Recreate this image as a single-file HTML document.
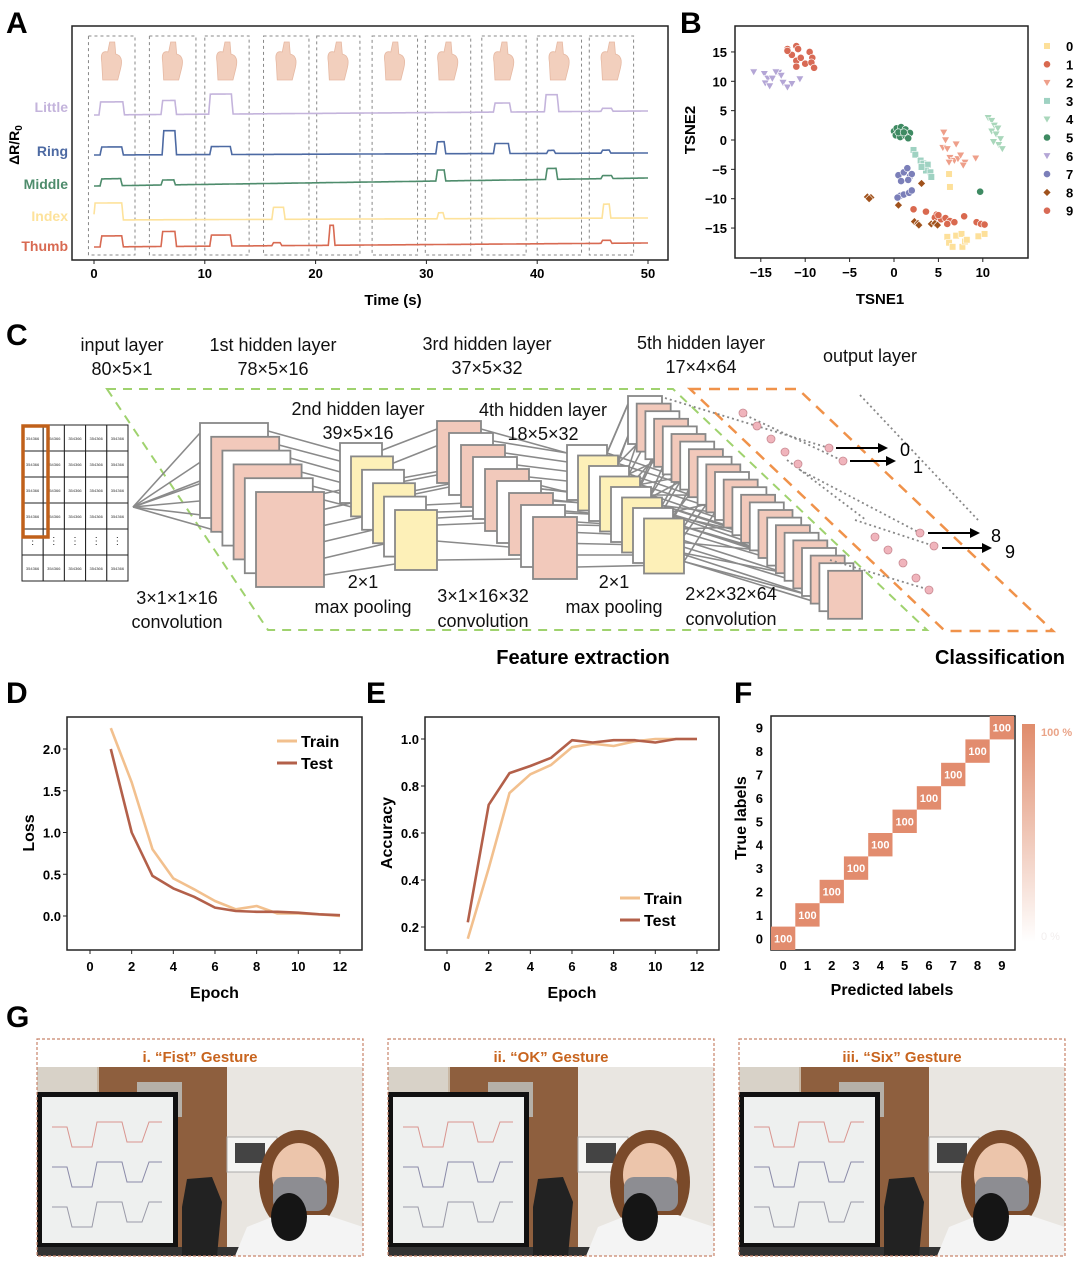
<!DOCTYPE html>
<html><head><meta charset="utf-8"><style>
html,body{margin:0;padding:0;background:#fff;}
svg{display:block;font-family:"Liberation Sans",Arial,sans-serif;}
</style></head><body>
<svg id="fig" xmlns="http://www.w3.org/2000/svg" width="1080" height="1264" viewBox="0 0 1080 1264">
<g id="pA"></g>
<g id="pB"></g>
<g id="pC"></g>
<g id="pD"></g>
<g id="pE"></g>
<g id="pF"></g>
<g id="pG"></g>
</svg>
<script>
// ---------- Panel A data ----------
const fingerNames = ["Little","Ring","Middle","Index","Thumb"];
const littlePulses = [[0.6,2.6,13],[6.2,7.3,14],[10.5,12.4,20],[36.2,37.5,9],[40.8,41.8,17],[45.9,46.7,3]];
const ringPulses = [[0.7,2.5,8],[6.3,7.3,24],[10.6,12.3,8],[31.0,31.6,12],[36.2,37.4,10],[41.0,41.5,3],[45.9,46.5,3]];
const middlePulses = [[0.7,2.4,7],[6.2,7.2,5],[31.0,31.6,11],[40.9,41.7,11],[45.9,46.7,3]];
const indexPulses = [[0.1,2.5,17],[16.2,17.1,12],[31.1,31.5,6],[46.0,46.5,14]];
const thumbPulses = [[0.7,2.5,11],[6.2,7.3,15],[10.6,12.3,11],[16.2,16.8,3],[21.3,21.6,20],[45.9,46.6,3]];
const littleDrift = [0,4];
const ringDrift = [0,2];
const middleDrift = [0,8];
const indexDrift = [0,2];
const thumbDrift = [0,4];
const timeTicks = [0,10,20,30,40,50];
const gestureWindows = [[-0.5,3.7],[5,9.2],[10,14],[15.3,19.4],[20.1,24],[25.1,29.2],[29.9,34],[35,39],[40,44],[44.7,48.7]];
// ---------- Panel B data ----------
const tsneClasses = ["0","1","2","3","4","5","6","7","8","9"];
const tsne0 = [[6.2,-5.8],[6.3,-8],[6,-16.5],[7,-16.3],[7.6,-16],[6.2,-17.5],[6.6,-18.2],[7.7,-18.2],[8,-17.3],[9.5,-16.4],[10.2,-16],[8.2,-17]];
const tsne1 = [[2.2,-11.8],[3.6,-12.2],[4.8,-12.7],[4.6,-13.2],[5.3,-13.5],[5.8,-13.3],[6.3,-13.8],[6.8,-14],[7.9,-13],[9.3,-14],[9.8,-14.3],[10.2,-14.4],[5,-12.8],[6,-14.3]];
const tsne2 = [[5.6,1.3],[5.8,0],[5.5,-1.3],[6,-1.5],[7,-0.7],[6.3,-3],[6.8,-3.5],[7.2,-3.2],[7.5,-2.6],[8,-3.8],[7.8,-4.3],[9.2,-3.1],[6.2,-3.8]];
const tsne3 = [[2.2,-1.7],[2.4,-2.5],[3,-3.5],[3.3,-4],[3.8,-4.2],[3.6,-5.2],[4.1,-5.5],[4.2,-6.3],[3.1,-4.6]];
const tsne4 = [[10.6,3.8],[11,3.3],[11.3,2.5],[11.7,2],[11,1.5],[11.5,1],[12,0.2],[11.8,-0.8],[12.2,-1.5],[11.2,-0.3]];
const tsne5 = [[0,1.5],[0.3,2],[0.8,2.2],[1.3,1.8],[1.8,1.2],[0.2,0.8],[0.7,0.5],[1.3,0.7],[1.6,0.3],[0.5,1.3],[1.1,1.3],[9.7,-8.8]];
const tsne6 = [[-15.8,11.6],[-14.6,11.3],[-14.2,10.5],[-14.5,9.7],[-14,9.2],[-13.7,10.5],[-13,11.5],[-12.7,11],[-12.5,9.8],[-12,9],[-11.5,9.6],[-10.6,10.4],[-13.3,11.6]];
const tsne7 = [[0.5,-6],[1.1,-5.5],[1.5,-4.8],[1.8,-6.2],[2,-5.8],[1.6,-6.8],[0.8,-7],[0.7,-9.5],[1.1,-9.3],[1.7,-9],[2,-8.6],[0.4,-9.8]];
const tsne8 = [[-3,-9.7],[-2.6,-9.8],[-2.8,-10],[0.5,-11.1],[2.3,-13.9],[2.7,-14.2],[2.8,-14.5],[4.2,-14.3],[4.6,-14.2],[4.9,-14.5],[3.1,-7.4]];
const tsne9 = [[-12,15.5],[-11.5,14.5],[-11,16],[-11,13.5],[-10.5,14],[-10,13],[-9.5,15],[-9.2,14],[-9.3,13.2],[-9,12.3],[-11,12.5],[-12,15.2],[-10.8,15.5]];
const tsneXTicks = [-15,-10,-5,0,5,10];
const tsneYTicks = [15,10,5,0,-5,-10,-15];
// ---------- Panel D/E data ----------
const epochs = [1,2,3,4,5,6,7,8,9,10,11,12];
const lossTrain = [2.25,1.6,0.8,0.45,0.32,0.18,0.08,0.12,0.03,0.03,0.02,0.0];
const lossTest = [2.0,1.0,0.48,0.33,0.23,0.1,0.06,0.05,0.05,0.04,0.02,0.01];
const accTrain = [0.15,0.45,0.77,0.85,0.89,0.965,0.98,0.97,0.99,1.0,1.0,1.0];
const accTest = [0.22,0.72,0.855,0.885,0.92,0.995,0.985,0.995,0.995,0.985,1.0,1.0];
const epochTicks = [0,2,4,6,8,10,12];
const lossTicks = [0.0,0.5,1.0,1.5,2.0];
const accTicks = [0.2,0.4,0.6,0.8,1.0];
// ---------- Panel F data ----------
const cmLabels = [0,1,2,3,4,5,6,7,8,9];
const cmDiag = [100,100,100,100,100,100,100,100,100,100];

const NS="http://www.w3.org/2000/svg";
function mk(tag, parent, attrs){const e=document.createElementNS(NS,tag);for(const k in attrs)e.setAttribute(k,attrs[k]);parent.appendChild(e);return e;}
function txt(parent,x,y,s,attrs){const e=mk("text",parent,Object.assign({x:x,y:y},attrs||{}));e.textContent=s;return e;}

// ================= PANEL A =================
(function(){
const g=document.getElementById("pA");
let e=txt(g,6,33,"A",{"font-size":30,"font-weight":"bold"});


const X0=94, X1=648, xs=t=>X0+(X1-X0)*t/50;
e=mk("rect",g,{x:72,y:26,width:596,height:234,fill:"none",stroke:"#222","stroke-width":1.5});


gestureWindows.forEach((w,i)=>{
  const x=xs(w[0]),x2=xs(w[1]);
  e=mk("rect",g,{x:x,y:36,width:x2-x,height:219,fill:"none",stroke:"#888","stroke-width":1,"stroke-dasharray":"3,3"});
  
  
  const cx=(x+x2)/2;
  e=mk("path",g,{d:`M${cx-9},80 L${cx-10},62 Q${cx-12},50 ${cx-4},52 L${cx-2},42 L${cx+3},42 L${cx+4},54 Q${cx+12},56 ${cx+9},68 L${cx+6},80 Z`,fill:"#f2cfbd",stroke:"#e6b9a3","stroke-width":0.8});
  
  
});
const pulses=[littlePulses,ringPulses,middlePulses,indexPulses,thumbPulses];
const drifts=[littleDrift,ringDrift,middleDrift,indexDrift,thumbDrift];
const baseY=[115,155,186,220,247];
const colors=["#c4b4dc","#4d6aa3","#4e8c6c","#fde29b","#d86a52"];
const labY=[107,151,184,216,246];
fingerNames.forEach((n,i)=>{
  e=txt(g,68,labY[i]+5,n,{"font-size":14,"font-weight":"bold",fill:colors[i],"text-anchor":"end"});
  
  
  let d="";
  for(let t=0;t<=50.001;t+=0.05){
    let v=drifts[i][0]+(drifts[i][1]-drifts[i][0])*t/50;
    pulses[i].forEach(p=>{
      const r=0.15;
      let f=0;
      if(t>=p[0]&&t<=p[1])f=1;
      else if(t>p[0]-r&&t<p[0])f=(t-(p[0]-r))/r;
      else if(t>p[1]&&t<p[1]+r)f=1-(t-p[1])/r;
      v+=p[2]*f;
    });
    d+=(d?"L":"M")+xs(t).toFixed(1)+","+(baseY[i]-v).toFixed(1);
  }
  e=mk("path",g,{d:d,fill:"none",stroke:colors[i],"stroke-width":1.6});
  
  
});
timeTicks.forEach(t=>{
  e=mk("line",g,{x1:xs(t),y1:260,x2:xs(t),y2:264,stroke:"#222"});
  
  
  e=txt(g,xs(t),278,String(t),{"font-size":13,"font-weight":"bold","text-anchor":"middle"});
  
  
});
e=txt(g,393,305,"Time (s)",{"font-size":15,"font-weight":"bold","text-anchor":"middle"});


e=mk("text",g,{x:0,y:0,transform:"translate(19,145) rotate(-90)","font-size":14,"font-weight":"bold","text-anchor":"middle"});
e.innerHTML='ΔR/R<tspan font-size="10" dy="3">0</tspan>';


})();

// ================= PANEL B =================
(function(){
const g=document.getElementById("pB");
let e=txt(g,680,33,"B",{"font-size":30,"font-weight":"bold"});


const xs=v=>894+v*8.88, ys=v=>140-v*5.87;
e=mk("rect",g,{x:735,y:26,width:293,height:232,fill:"none",stroke:"#222","stroke-width":1.5});


tsneXTicks.forEach(t=>{
  e=mk("line",g,{x1:xs(t),y1:258,x2:xs(t),y2:262,stroke:"#222"});
  
  
  e=txt(g,xs(t),277,t<0?"\u2212"+(-t):String(t),{"font-size":13,"font-weight":"bold","text-anchor":"middle"});
  
  
});
tsneYTicks.forEach(t=>{
  e=mk("line",g,{x1:731,y1:ys(t),x2:735,y2:ys(t),stroke:"#222"});
  
  
  e=txt(g,727,ys(t)+5,t<0?"\u2212"+(-t):String(t),{"font-size":13,"font-weight":"bold","text-anchor":"end"});
  
  
});
e=txt(g,880,304,"TSNE1",{"font-size":15,"font-weight":"bold","text-anchor":"middle"});


e=txt(g,0,0,"TSNE2",{transform:"translate(695,130) rotate(-90)","font-size":15,"font-weight":"bold","text-anchor":"middle"});


const sets=[tsne0,tsne1,tsne2,tsne3,tsne4,tsne5,tsne6,tsne7,tsne8,tsne9];
const cols=["#fde09a","#d9694f","#ee9f8a","#9fd2c2","#a9d7bb","#3e8a62","#b4a6d6","#7b7fb9","#a0521c","#d86a55"];
const shapes=["sq","c","tri","sq","tri","c","tri","c","dia","c"];
function marker(par,x,y,s,c){
  let m;
  if(s==="c")m=mk("circle",par,{cx:x,cy:y,r:3.6,fill:c,stroke:"#fff","stroke-width":0.6});
  else if(s==="sq")m=mk("rect",par,{x:x-3.3,y:y-3.3,width:6.6,height:6.6,fill:c,stroke:"#fff","stroke-width":0.6});
  else if(s==="tri")m=mk("path",par,{d:`M${x-4},${y-3} L${x+4},${y-3} L${x},${y+4} Z`,fill:c,stroke:"#fff","stroke-width":0.6});
  else m=mk("path",par,{d:`M${x-4},${y} L${x},${y-4} L${x+4},${y} L${x},${y+4} Z`,fill:c,stroke:"#fff","stroke-width":0.6});
  return m;
}
sets.forEach((pts,k)=>{
  pts.forEach(p=>{
    e=marker(g,xs(p[0]),ys(p[1]),shapes[k],cols[k]);
    
    
  });
  const ly=46+k*18.3;
  e=marker(g,1047,ly,shapes[k],cols[k]);
  
  
  e=txt(g,1066,ly+5,tsneClasses[k],{"font-size":13,"font-weight":"bold"});
  
  
});
})();

// ================= PANEL C =================
(function(){
const g=document.getElementById("pC");
let e=txt(g,6,345,"C",{"font-size":30,"font-weight":"bold"});


const labels=[[122,351,"input layer"],[122,375,"80×5×1"],[273,351,"1st hidden layer"],[273,375,"78×5×16"],[487,350,"3rd hidden layer"],[487,374,"37×5×32"],[701,349,"5th hidden layer"],[701,373,"17×4×64"],[870,362,"output layer"],[358,415,"2nd hidden layer"],[358,439,"39×5×16"],[543,416,"4th hidden layer"],[543,440,"18×5×32"],
[177,604,"3×1×1×16"],[177,628,"convolution"],[363,588,"2×1"],[363,613,"max pooling"],[483,602,"3×1×16×32"],[483,627,"convolution"],[614,588,"2×1"],[614,613,"max pooling"],[731,600,"2×2×32×64"],[731,625,"convolution"]];
e=mk("path",g,{d:"M107,389 L673,389 L927,630 L268,630 Z",fill:"none",stroke:"#9fd26e","stroke-width":2,"stroke-dasharray":"9,7"});


e=mk("path",g,{d:"M690,389 L798,389 L1053,631 L945,631 Z",fill:"none",stroke:"#f0924a","stroke-width":2.5,"stroke-dasharray":"11,8"});


e=mk("g",g,{});


const tg=e;
for(let r=0;r<6;r++)for(let c=0;c<5;c++){
  const cw=21.2,rh=26;
  const cell=mk("rect",tg,{x:22+c*cw,y:425+r*rh,width:cw,height:rh,fill:"#fff",stroke:"#222","stroke-width":1});
  
  
  const t=txt(tg,22+c*cw+cw/2,425+r*rh+15,r===4?"⋮":"354366",{"font-size":r===4?10:4,"text-anchor":"middle",fill:"#333"});
  
  
}
e=mk("rect",g,{x:23,y:426,width:25,height:111,fill:"none",stroke:"#c0601a","stroke-width":3.5});


function stack(name,x0,y0,n,dx,dy,w,h,fill){
  const sg=mk("g",g,{});
  
  
  for(let i=0;i<n;i++){
    const r=mk("rect",sg,{x:x0+i*dx,y:y0+i*dy,width:w,height:h,fill:(n-1-i)%2===0?fill:"#fff",stroke:"#888","stroke-width":1.8});
    
    
  }
}
const lg=mk("g",g,{stroke:"#8a8a8a","stroke-width":1.6});


function connect(A,B){
  A.forEach((a,i)=>{const b=B[Math.min(B.length-1,Math.floor(i*B.length/A.length))];
    let l=mk("line",lg,{x1:a[0]+a[2],y1:a[1]+8,x2:b[0],y2:b[1]+8});
    
    
    l=mk("line",lg,{x1:a[0]+a[2],y1:a[1]+a[3]-12,x2:b[0],y2:b[1]+b[3]-8});
    
    
  });
}
const L1=[[200,423,68,95],[211,437,68,95],[222,450,68,95],[233,464,68,95],[244,478,68,95],[256,492,68,95]];
const L2=[[340,443,40,55],[351,456,40,55],[362,470,40,55],[373,483,40,55],[384,497,40,55],[395,510,43,62]];
const L3=[];for(let i=0;i<9;i++)L3.push([437+i*12,421+i*12,44,62]);
const L4=[];for(let i=0;i<8;i++)L4.push([567+i*11,445+i*10.5,40,55]);
const L5=[];for(let i=0;i<24;i++)L5.push([628+i*8.7,396+i*7.6,34,48]);
for(let k=0;k<7;k++){
  let l=mk("line",lg,{x1:133,y1:507,x2:L1[k%6][0],y2:L1[k%6][1]+10+k*8});
  
  
}
connect(L1,L2);connect(L2,L3);connect(L3,L4);connect(L4,L5);connect(L4.concat(L4),L5);
stack("hidden-layer-1",200,423,6,11.2,13.8,68,95,"#f2c9bb");
stack("hidden-layer-2",340,443,6,11,13.4,42,60,"#fdf0b8");
stack("hidden-layer-3",437,421,9,12,12,44,62,"#f2c9bb");
stack("hidden-layer-4",567,445,8,11,10.5,40,55,"#fdf0b8");
stack("hidden-layer-5",628,396,24,8.7,7.6,34,48,"#f2c9bb");
const dg=mk("g",g,{});


const dl=[[665,398,829,448],[745,415,843,461],[800,470,920,533],[855,520,934,546],[860,395,978,520],[787,460,866,520],[830,560,930,590]];
dl.forEach(p=>{const l=mk("line",dg,{x1:p[0],y1:p[1],x2:p[2],y2:p[3],stroke:"#888","stroke-width":1.8,"stroke-dasharray":"2,3"});
  
  });
const dots=[[743,413],[757,426],[771,439],[785,452],[798,464],[875,537],[888,550],[903,563],[916,578],[929,590],[829,448],[843,461],[920,533],[934,546]];
dots.forEach(p=>{const c=mk("circle",dg,{cx:p[0],cy:p[1],r:4,fill:"#f0b4bc",stroke:"#c88a92","stroke-width":0.8});
  
  });
const arrows=[[836,448,888,"0",905,456],[850,461,896,"1",918,473],[928,533,980,"8",996,542],[942,548,992,"9",1010,558]];
arrows.forEach(a=>{
  let l=mk("line",g,{x1:a[0],y1:a[1],x2:a[2]-8,y2:a[1],stroke:"#000","stroke-width":2});
  
  
  l=mk("path",g,{d:`M${a[2]-10},${a[1]-5} L${a[2]},${a[1]} L${a[2]-10},${a[1]+5} Z`,fill:"#000"});
  
  
  l=txt(g,a[4],a[5],a[3],{"font-size":18,"text-anchor":"middle"});
  
  
});
labels.forEach(l=>{
  const t=txt(g,l[0],l[1],l[2],{"font-size":18,"text-anchor":"middle",fill:"#111"});
  
  
});
e=txt(g,583,664,"Feature extraction",{"font-size":20,"font-weight":"bold","text-anchor":"middle"});


e=txt(g,1000,664,"Classification",{"font-size":20,"font-weight":"bold","text-anchor":"middle"});


})();

// ================= PANELS D & E =================
function linePanel(g,letter,lx,fx,fw,xs,ys,yTicks,yFmt,ytitle,ytx,series,legX,legY){
  let e=txt(g,lx,703,letter,{"font-size":30,"font-weight":"bold"});
  
  
  e=mk("rect",g,{x:fx,y:717,width:fw,height:233,fill:"none",stroke:"#222","stroke-width":1.5});
  
  
  epochTicks.forEach(t=>{
    e=mk("line",g,{x1:xs(t),y1:950,x2:xs(t),y2:954,stroke:"#222"});
    
    
    e=txt(g,xs(t),971,String(t),{"font-size":13,"font-weight":"bold","text-anchor":"middle"});
    
    
  });
  yTicks.forEach(t=>{
    e=mk("line",g,{x1:fx-4,y1:ys(t),x2:fx,y2:ys(t),stroke:"#222"});
    
    
    e=txt(g,fx-6,ys(t)+5,yFmt(t),{"font-size":13,"font-weight":"bold","text-anchor":"end"});
    
    
  });
  e=txt(g,fx+fw/2,998,"Epoch",{"font-size":16,"font-weight":"bold","text-anchor":"middle"});
  
  
  e=txt(g,0,0,ytitle,{transform:`translate(${ytx},833) rotate(-90)`,"font-size":16,"font-weight":"bold","text-anchor":"middle"});
  
  
  series.forEach((s,i)=>{
    const d=epochs.map((x,j)=>(j?"L":"M")+xs(x).toFixed(1)+","+ys(s.v[j]).toFixed(1)).join("");
    e=mk("path",g,{d:d,fill:"none",stroke:s.c,"stroke-width":2.6,"stroke-linejoin":"round"});
    
    
    e=mk("line",g,{x1:legX,y1:legY+i*22,x2:legX+20,y2:legY+i*22,stroke:s.c,"stroke-width":3});
    
    
    e=txt(g,legX+24,legY+i*22+6,s.n,{"font-size":16,"font-weight":"bold"});
    
    
  });
}
linePanel(document.getElementById("pD"),"D",6,67,295,t=>90+t*20.83,v=>916-v*83.5,lossTicks,v=>v.toFixed(1),"Loss",34,
  [{n:"Train",v:lossTrain,c:"#f2c08e"},{n:"Test",v:lossTest,c:"#b3604a"}],277,741);
linePanel(document.getElementById("pE"),"E",366,425,294,t=>447+t*20.83,v=>739+(1-v)*235,accTicks,v=>v.toFixed(1),"Accuracy",392,
  [{n:"Train",v:accTrain,c:"#f2c08e"},{n:"Test",v:accTest,c:"#b3604a"}],620,898);

// ================= PANEL F =================
(function(){
const g=document.getElementById("pF");
let e=txt(g,734,703,"F",{"font-size":30,"font-weight":"bold"});


const cw=24.3,ch=23.4,x0=771,yb=950;
e=mk("rect",g,{x:771,y:716,width:244,height:234,fill:"none",stroke:"#222","stroke-width":1.5});


cmLabels.forEach((l,i)=>{
  const v=cmDiag[i];
  const a=v/100;
  e=mk("rect",g,{x:x0+i*cw,y:yb-(i+1)*ch,width:cw,height:ch,fill:`rgba(226,140,110,${a})`});
  
  
  e=txt(g,x0+i*cw+cw/2,yb-i*ch-ch/2+4,String(v),{"font-size":11,"font-weight":"bold",fill:"#fff","text-anchor":"middle"});
  
  
  e=txt(g,x0+i*cw+cw/2,970,String(l),{"font-size":13,"font-weight":"bold","text-anchor":"middle"});
  
  
  e=txt(g,763,yb-i*ch-ch/2+5,String(l),{"font-size":13,"font-weight":"bold","text-anchor":"end"});
  
  
});
e=txt(g,892,995,"Predicted labels",{"font-size":16,"font-weight":"bold","text-anchor":"middle"});


e=txt(g,0,0,"True labels",{transform:"translate(746,818) rotate(-90)","font-size":16,"font-weight":"bold","text-anchor":"middle"});


const defs=mk("defs",g,{});
const lgd=mk("linearGradient",defs,{id:"cbar",x1:0,y1:0,x2:0,y2:1});
mk("stop",lgd,{offset:"0","stop-color":"#e08c6c"});
mk("stop",lgd,{offset:"1","stop-color":"#ffffff"});
e=mk("rect",g,{x:1022,y:724,width:13,height:218,fill:"url(#cbar)"});


e=txt(g,1041,736,"100 %",{"font-size":11,"font-weight":"bold",fill:"#eaa488"});


e=txt(g,1041,940,"0 %",{"font-size":11,fill:"#f2eeee"});


})();

// ================= PANEL G =================
(function(){
const g=document.getElementById("pG");
let e=txt(g,6,1027,"G",{"font-size":30,"font-weight":"bold"});


const titles=["i. “Fist” Gesture","ii. “OK” Gesture","iii. “Six” Gesture"];
const xs=[37,388,739];
xs.forEach((x,i)=>{
  const pg=mk("g",g,{transform:`translate(${x},1039)`});
  
  
  e=txt(pg,163,23,titles[i],{"font-size":15,"font-weight":"bold",fill:"#c8641e","text-anchor":"middle"});
  
  
  const ph=mk("g",pg,{transform:"translate(0,28)"});
  
  
  mk("rect",ph,{x:0,y:0,width:326,height:189,fill:"#c9b8a4"});
  mk("rect",ph,{x:0,y:0,width:60,height:189,fill:"#d8d2c8"});
  mk("rect",ph,{x:62,y:0,width:128,height:189,fill:"#8e5f3e"});
  mk("rect",ph,{x:100,y:15,width:45,height:35,fill:"#b5b0a8"});
  mk("rect",ph,{x:190,y:0,width:136,height:189,fill:"#e9e6e1"});
  mk("rect",ph,{x:190,y:70,width:50,height:35,fill:"#f5f5f3",stroke:"#aaa"});
  mk("rect",ph,{x:198,y:76,width:30,height:20,fill:"#444"});
  mk("rect",ph,{x:0,y:25,width:141,height:158,fill:"#111"});
  mk("rect",ph,{x:5,y:30,width:131,height:146,fill:"#eef0ef"});
  const sc=["#d9958f","#8a8aa8","#9a9aa8"];
  [0,1,2].forEach(k=>{
    const yy=60+k*40;
    const l=mk("path",ph,{d:`M15,${yy} L30,${yy} L35,${yy+20} L55,${yy+20} L60,${yy-5} L85,${yy-5} L90,${yy+15} L105,${yy+15} L112,${yy-5} L125,${yy-5}`,fill:"none",stroke:sc[k],"stroke-width":1});
    
    
  });
  mk("rect",ph,{x:0,y:180,width:326,height:9,fill:"#333"});
  mk("path",ph,{d:"M145,189 L145,140 L150,112 L175,110 L185,135 L180,189 Z",fill:"#222"});
  mk("ellipse",ph,{cx:262,cy:115,rx:40,ry:52,fill:"#7a4a2a"});
  mk("ellipse",ph,{cx:262,cy:108,rx:27,ry:32,fill:"#ecc5ab"});
  mk("rect",ph,{x:236,y:110,width:54,height:34,rx:10,fill:"#8d8d92"});
  mk("path",ph,{d:"M198,189 L210,160 L240,148 L290,148 L326,160 L326,189 Z",fill:"#f4f4f4"});
  mk("ellipse",ph,{cx:252,cy:150,rx:18,ry:24,fill:"#151515"});
  const fr=mk("rect",pg,{x:0,y:0,width:326,height:217,fill:"none",stroke:"#c8846a","stroke-width":1.2,"stroke-dasharray":"3,2"});
  
  
});
})();
</script>
</body></html>
